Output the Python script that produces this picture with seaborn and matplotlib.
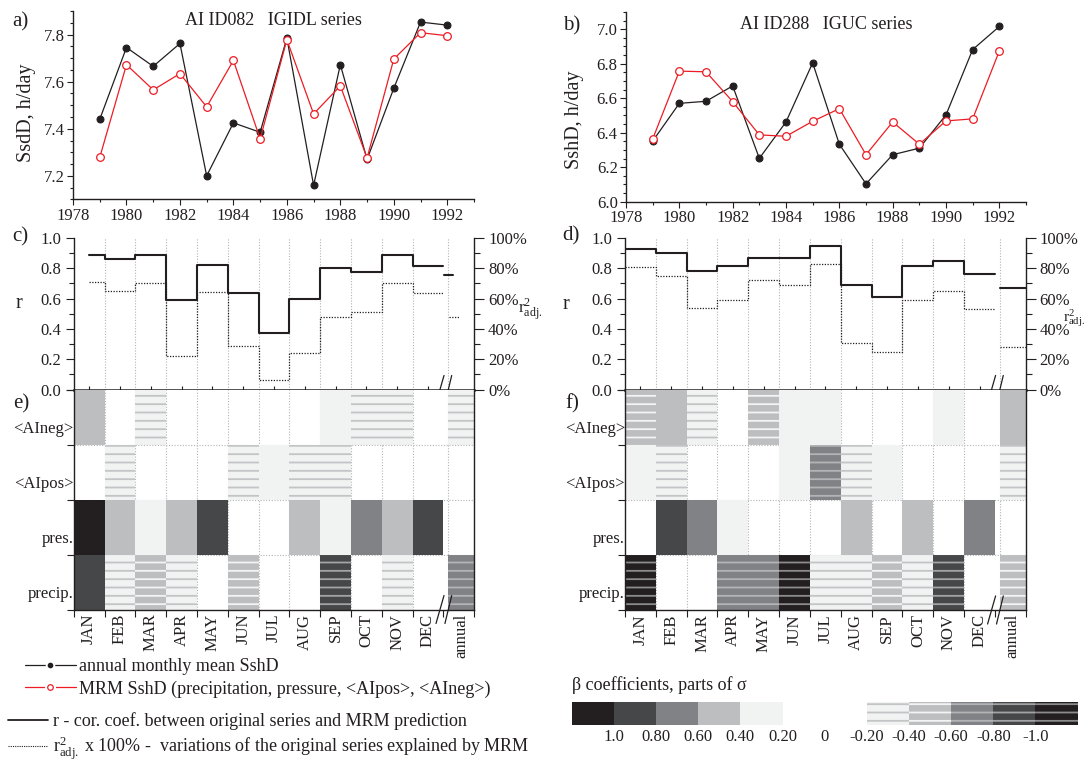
import numpy as np
import pandas as pd
import seaborn as sns
import matplotlib.pyplot as plt
from matplotlib.lines import Line2D
from matplotlib.ticker import MultipleLocator, FixedLocator, FuncFormatter, NullFormatter
from matplotlib.transforms import blended_transform_factory

# ---- values ----
years = list(range(1979, 1993))

# a) AI ID082, IGIDL series
ssd_obs_a = [7.44, 7.745, 7.665, 7.762, 7.20, 7.425, 7.385, 7.785, 7.16, 7.672, 7.27, 7.572, 7.853, 7.84]
ssd_mrm_a = [7.278, 7.672, 7.565, 7.634, 7.493, 7.69, 7.357, 7.778, 7.463, 7.582, 7.276, 7.696, 7.808, 7.795]

# b) AI ID288, IGUC series
ssd_obs_b = [6.351, 6.57, 6.582, 6.671, 6.251, 6.462, 6.805, 6.333, 6.103, 6.272, 6.31, 6.503, 6.882, 7.016]
ssd_mrm_b = [6.363, 6.757, 6.753, 6.58, 6.387, 6.379, 6.466, 6.539, 6.272, 6.462, 6.333, 6.468, 6.48, 6.874]

months = ['JAN', 'FEB', 'MAR', 'APR', 'MAY', 'JUN', 'JUL', 'AUG', 'SEP', 'OCT', 'NOV', 'DEC']
col_labels = months + ['annual']
predictors = ['<AIneg>', '<AIpos>', 'pres.', 'precip.']

# c) / d) correlation r and explained variance r2_adj (fraction)
r_c = [0.89, 0.86, 0.89, 0.59, 0.825, 0.635, 0.37, 0.60, 0.80, 0.775, 0.89, 0.815]
r2_c = [0.71, 0.65, 0.705, 0.22, 0.645, 0.285, 0.06, 0.24, 0.48, 0.51, 0.705, 0.635]
r_c_annual = 0.755
r2_c_annual = 0.48

r_d = [0.925, 0.90, 0.785, 0.815, 0.87, 0.87, 0.945, 0.69, 0.61, 0.815, 0.845, 0.76]
r2_d = [0.81, 0.75, 0.54, 0.59, 0.72, 0.69, 0.83, 0.31, 0.25, 0.59, 0.65, 0.53]
r_d_annual = 0.67
r2_d_annual = 0.28

# e) / f) beta coefficients (class mid values), 12 months + annual
ai_neg_e = [0.3, 0, -0.1, 0, 0, 0, 0, 0, 0.1, -0.1, -0.1, 0, -0.1]
ai_pos_e = [0, -0.1, 0, 0, 0, -0.1, 0.1, -0.1, -0.1, 0, 0, 0, 0]
pres_e = [0.9, 0.3, 0.1, 0.3, 0.7, 0, 0, 0.3, 0.1, 0.5, 0.3, 0.7, 0]
precip_e = [0.7, -0.1, -0.3, -0.1, 0, -0.3, 0, 0, -0.7, 0, -0.1, 0, -0.5]

ai_neg_f = [-0.3, 0.3, -0.1, 0, -0.3, 0.1, 0.1, 0, 0, 0, 0.1, 0, 0.3]
ai_pos_f = [0.1, -0.1, 0, 0, 0, 0.1, -0.5, -0.1, 0.1, 0, 0, 0, -0.1]
pres_f = [0, 0.7, 0.5, 0.1, 0, 0, 0, 0.3, 0, 0.3, 0, 0.5, 0]
precip_f = [-0.9, 0, 0, -0.5, -0.5, -0.9, -0.1, -0.1, -0.3, -0.1, -0.7, 0, -0.3]

cb_labels = ['1.0', '0.80', '0.60', '0.40', '0.20', '0', '-0.20', '-0.40', '-0.60', '-0.80', '-1.0']

# ---- style ----
sns.set_style('ticks')
plt.rcParams['font.family'] = ['Liberation Serif', 'DejaVu Serif']
plt.rcParams.update({
    'mathtext.fontset': 'stix',
    'text.color': '#231f20',
    'axes.edgecolor': '#231f20',
    'xtick.color': '#231f20',
    'ytick.color': '#231f20',
    'xtick.labelsize': 12,
    'ytick.labelsize': 12,
    'axes.linewidth': 1.0,
    'hatch.linewidth': 1.3,
})

BLACK = '#231f20'
RED = '#ed1c24'
GRID = '#b4b4b4'
GREYS = ['#f1f2f2', '#bcbec0', '#808285', '#464749', '#231f20']
STRIPES = ['#c3c4c6', '#f4f4f4', '#b3b4b6', '#a3a4a6', '#8c8c8e']

W, H = 1086, 761
fig = plt.figure(figsize=(W / 100, H / 100), dpi=100)


def rect(x0, y0, x1, y1):
    return [x0 / W, 1 - y1 / H, (x1 - x0) / W, (y1 - y0) / H]


def series_panel(ax, obs, mrm, ylim, title, ty):
    df = pd.DataFrame({'year': years, 'obs': obs, 'mrm': mrm})
    sns.lineplot(data=df, x='year', y='obs', ax=ax, color=BLACK, lw=0.9, marker='o',
                 markersize=5, markerfacecolor=BLACK, markeredgecolor=BLACK)
    sns.lineplot(data=df, x='year', y='mrm', ax=ax, color=RED, lw=0.9, marker='o',
                 markersize=5.5, markerfacecolor='white', markeredgecolor=RED, markeredgewidth=0.9)
    ax.set_xlim(1978, 1993)
    ax.set_ylim(*ylim)
    ax.xaxis.set_major_locator(MultipleLocator(2))
    ax.xaxis.set_minor_locator(MultipleLocator(1))
    ax.yaxis.set_major_locator(MultipleLocator(0.2))
    ax.yaxis.set_minor_locator(MultipleLocator(0.05))
    ax.yaxis.set_major_formatter(FuncFormatter(lambda v, p: f'{v:.1f}'))
    ax.tick_params(which='major', direction='out', length=4, width=0.8, pad=2)
    ax.tick_params(which='minor', direction='out', length=2.5, width=0.8)
    ax.set_xlabel('')
    ax.set_ylabel('')
    for s in ('top', 'right'):
        ax.spines[s].set_visible(False)
    ax.text(0.5, ty, title, transform=ax.transAxes, ha='center', va='center', fontsize=13)


def break_mark(ax, y_axes, half):
    tr = blended_transform_factory(ax.transData, ax.transAxes)
    for x0, x1 in [(11.76, 12.02), (12.05, 12.27)]:
        ax.plot([x0, x1], [y_axes - half, y_axes + half], transform=tr, color=BLACK,
                lw=0.9, clip_on=False, zorder=6)


ANN_X0 = 12.15
centers = np.r_[np.arange(12) + 0.5, (ANN_X0 + 13) / 2]
widths = np.r_[np.ones(12), 13 - ANN_X0]


def corr_panel(ax, r, r2, r_ann, r2_ann, first_edge, r_ann_span, r2_ann_span):
    edges = [first_edge] + list(range(1, 13))
    sns.lineplot(x=edges, y=r + [r[-1]], ax=ax, drawstyle='steps-post', color=BLACK, lw=1.5,
                 estimator=None)
    sns.lineplot(x=edges, y=r2 + [r2[-1]], ax=ax, drawstyle='steps-post', color=BLACK, lw=0.9,
                 ls=(0, (1, 1.2)), estimator=None)
    sns.lineplot(x=list(r_ann_span), y=[r_ann, r_ann], ax=ax, color=BLACK, lw=1.5)
    sns.lineplot(x=list(r2_ann_span), y=[r2_ann, r2_ann], ax=ax, color=BLACK, lw=0.9, ls=(0, (1, 1.2)))
    for xb in list(range(1, 12)) + [ANN_X0]:
        ax.axvline(xb, color=GRID, lw=0.8, ls=(0, (1, 1.5)), zorder=0)
    ax.set_xlim(0, 13)
    ax.set_ylim(0, 1.0)
    ax.yaxis.set_major_locator(MultipleLocator(0.2))
    ax.yaxis.set_minor_locator(MultipleLocator(0.1))
    ax.yaxis.set_major_formatter(FuncFormatter(lambda v, p: f'{v:.1f}'))
    ax.xaxis.set_major_locator(FixedLocator([]))
    ax.xaxis.set_minor_locator(FixedLocator(centers[:12]))
    ax.xaxis.set_minor_formatter(NullFormatter())
    ax.tick_params(axis='x', which='minor', direction='in', length=3, width=0.8)
    ax.tick_params(axis='y', which='major', direction='out', length=6, width=0.8, pad=3)
    ax.tick_params(axis='y', which='minor', direction='out', length=3.5, width=0.8)
    ax.set_xlabel('')
    ax.set_ylabel('')
    ax.spines['top'].set_visible(False)
    ax.spines['right'].set_visible(False)
    ax.spines['bottom'].set_linewidth(1.8)
    axr = ax.twinx()
    axr.set_ylim(0, 100)
    axr.yaxis.set_major_locator(MultipleLocator(20))
    axr.yaxis.set_minor_locator(MultipleLocator(10))
    axr.yaxis.set_major_formatter(FuncFormatter(lambda v, p: f'{int(round(v))}%'))
    axr.tick_params(axis='y', which='major', direction='out', length=7, width=0.8, pad=3)
    axr.tick_params(axis='y', which='minor', direction='out', length=4, width=0.8)
    for s in ('top', 'left', 'bottom'):
        axr.spines[s].set_visible(False)
    break_mark(ax, 0.0, 14 / 151)


def beta_panel(ax, rows):
    ax.set_xlim(0, 13)
    ax.set_ylim(4, 0)
    for xb in list(range(1, 12)) + [ANN_X0]:
        ax.axvline(xb, color=GRID, lw=0.8, ls=(0, (1, 1.5)), zorder=1)
    for yb in (1, 2, 3):
        ax.axhline(yb, color=GRID, lw=0.8, ls=(0, (1, 1.5)), zorder=1)
    for i, vals in enumerate(rows):
        vals = np.asarray(vals, dtype=float)
        lev = np.clip(np.ceil(np.abs(vals) / 0.2 - 1e-9).astype(int) - 1, 0, 4)
        pos = vals > 0
        neg = vals < 0
        if pos.any():
            ax.bar(centers[pos], 1, bottom=i, width=widths[pos],
                   color=[GREYS[k] for k in lev[pos]], linewidth=0, zorder=2)
        if neg.any():
            ax.bar(centers[neg], 1, bottom=i, width=widths[neg],
                   color=[GREYS[k] for k in lev[neg]], edgecolor=[STRIPES[k] for k in lev[neg]],
                   hatch='--', linewidth=0, zorder=2)
    ax.xaxis.set_major_locator(FixedLocator(list(range(13)) + [13]))
    ax.xaxis.set_major_formatter(NullFormatter())
    ax.xaxis.set_minor_locator(FixedLocator(centers))
    ax.set_xticklabels(col_labels, minor=True, rotation=90, fontsize=12)
    ax.tick_params(axis='x', which='major', direction='out', length=5, width=0.8)
    ax.tick_params(axis='x', which='minor', length=0, pad=3)
    ax.yaxis.set_major_locator(FixedLocator([0, 1, 2, 3, 4]))
    ax.yaxis.set_major_formatter(NullFormatter())
    ax.yaxis.set_minor_locator(FixedLocator([i + 0.68 for i in range(4)]))
    ax.set_yticklabels(predictors, minor=True, fontsize=12)
    ax.tick_params(axis='y', which='major', direction='out', length=5, width=0.8)
    ax.tick_params(axis='y', which='minor', length=0, pad=0)
    ax.spines['top'].set_visible(False)
    for s in ('left', 'right', 'bottom'):
        ax.spines[s].set_linewidth(1.0)
    break_mark(ax, 0.0, 14 / 220)


# ---- panels ----
ax_a = fig.add_axes(rect(73, 11, 474, 199.4))
series_panel(ax_a, ssd_obs_a, ssd_mrm_a, (7.1, 7.9), 'AI ID082   IGIDL series', 0.947)
ax_b = fig.add_axes(rect(626, 12, 1026, 201.6))
series_panel(ax_b, ssd_obs_b, ssd_mrm_b, (6.0, 7.1), 'AI ID288   IGUC series', 0.934)

ax_c = fig.add_axes(rect(73.7, 238, 474.2, 389.5))
corr_panel(ax_c, r_c, r2_c, r_c_annual, r2_c_annual, 0.5, (12.02, 12.3), (12.19, 12.52))
ax_d = fig.add_axes(rect(625, 238, 1025.8, 389.5))
corr_panel(ax_d, r_d, r2_d, r_d_annual, r2_d_annual, 0.0, (ANN_X0, 13), (ANN_X0, 13))

ax_e = fig.add_axes(rect(73.7, 389.5, 474.2, 609.5))
beta_panel(ax_e, [ai_neg_e, ai_pos_e, pres_e, precip_e])
ax_f = fig.add_axes(rect(625, 389.5, 1025.8, 610))
beta_panel(ax_f, [ai_neg_f, ai_pos_f, pres_f, precip_f])

# ---- free text ----
def ftext(x, y, s, ha='center', **kw):
    fig.text(x / W, 1 - y / H, s, ha=ha, va='center', **kw)


ftext(20, 22, 'a)', fontsize=15)
ftext(571.5, 26, 'b)', fontsize=15)
ftext(20, 237, 'c)', fontsize=15)
ftext(571, 236, 'd)', fontsize=15)
ftext(21.5, 404, 'e)', fontsize=15)
ftext(572.5, 404, 'f)', fontsize=15)
ftext(27, 112.6, 'SsdD, h/day', fontsize=14.5, rotation=90)
ftext(574, 119.5, 'SshD, h/day', fontsize=14.5, rotation=90)
ftext(19, 303, 'r', fontsize=14.5)
ftext(566, 305, 'r', fontsize=14.5)
ftext(518, 310, r'$\mathregular{r^{2}_{adj.}}$', ha='left', fontsize=12.5)
ftext(1063, 318, r'$\mathregular{r^{2}_{adj.}}$', ha='left', fontsize=11)

# ---- colour key ----
ax_cb = fig.add_axes(rect(571.8, 702, 1077.6, 724.7))
ax_cb.bar(np.arange(5) + 0.5, 1, width=1, color=GREYS[::-1], linewidth=0)
ax_cb.bar(np.arange(5) + 7.5, 1, width=1, color=GREYS, edgecolor=STRIPES, hatch='--', linewidth=0)
ax_cb.set_xlim(0, 12)
ax_cb.set_ylim(0, 1)
ax_cb.set_xticks(np.arange(1, 12))
ax_cb.set_xticklabels(cb_labels, fontsize=12)
ax_cb.set_yticks([])
ax_cb.tick_params(axis='x', length=0, pad=3)
for s in ax_cb.spines.values():
    s.set_visible(False)
fig.text(571.8 / W, 1 - 685 / H, 'β coefficients, parts of σ', ha='left', va='center', fontsize=13)

# ---- legend ----
h_obs = Line2D([], [], color=BLACK, lw=0.9, marker='o', markersize=5.5, mfc=BLACK, mec='white', mew=1.4)
h_mrm_gap = Line2D([], [], color=RED, lw=0.9, marker='o', markersize=7, mfc='white', mec='white')
h_mrm_pt = Line2D([], [], ls='none', marker='o', markersize=4, mfc='white', mec=RED, mew=0.9)
fig.legend([h_obs, (h_mrm_gap, h_mrm_pt)],
           ['annual monthly mean SshD', 'MRM SshD (precipitation, pressure, <AIpos>, <AIneg>)'],
           loc='upper left', bbox_to_anchor=(25 / W, 1 - 658 / H), frameon=False, fontsize=13,
           handlelength=2.8, handletextpad=0.2, borderpad=0, borderaxespad=0, labelspacing=0.3)
h_r = Line2D([], [], color=BLACK, lw=1.3)
h_r2 = Line2D([], [], color=BLACK, lw=0.8, ls=(0, (1, 1)))
fig.legend([h_r, h_r2],
           ['r - cor. coef. between original series and MRM prediction',
            r'$\mathregular{r^{2}_{adj.}}$ x 100% -  variations of the original series explained by MRM'],
           loc='upper left', bbox_to_anchor=(8 / W, 1 - 712 / H), frameon=False, fontsize=13,
           handlelength=2.2, handletextpad=0.28, borderpad=0, borderaxespad=0, labelspacing=0.22)

fig.savefig('out.png', dpi=100)
